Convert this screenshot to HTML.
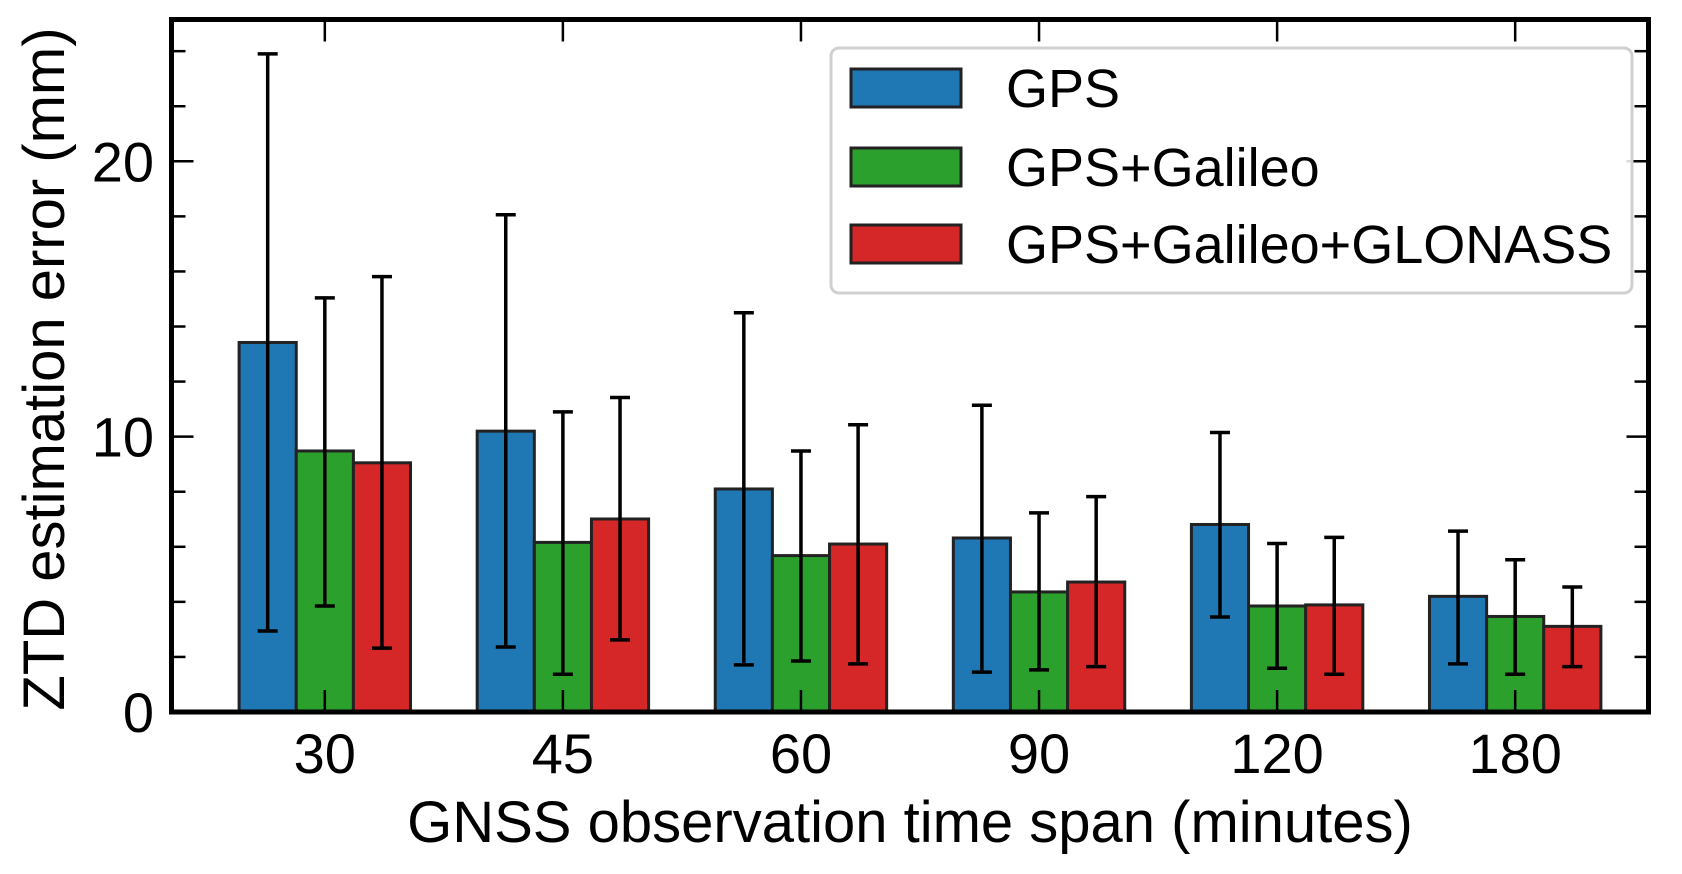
<!DOCTYPE html>
<html><head><meta charset="utf-8"><style>
html,body{margin:0;padding:0;background:#fff}
svg{display:block;font-family:"Liberation Sans",Arial,sans-serif}
</style></head><body>
<svg id="chart" width="1682" height="874" viewBox="0 0 1682 874" xmlns="http://www.w3.org/2000/svg">
<g id="plot"></g>
</svg>
<script>
const categories = ["30","45","60","90","120","180"];
const seriesNames = ["GPS","GPS+Galileo","GPS+Galileo+GLONASS"];
const gpsValues = [13.42,10.2,8.1,6.32,6.81,4.2];
const galValues = [9.48,6.16,5.68,4.36,3.85,3.47];
const gloValues = [9.05,7.01,6.1,4.72,3.89,3.11];
const gpsErrHigh = [23.9,18.06,14.5,11.14,10.15,6.57];
const gpsErrLow = [2.94,2.36,1.71,1.45,3.45,1.75];
const galErrHigh = [15.04,10.9,9.48,7.23,6.12,5.53];
const galErrLow = [3.85,1.37,1.85,1.53,1.59,1.37];
const gloErrHigh = [15.81,11.42,10.43,7.82,6.34,4.54];
const gloErrLow = [2.32,2.62,1.75,1.65,1.37,1.65];
const yTicks = [0,10,20];

const NS="http://www.w3.org/2000/svg";
const L=171.5,R=1648.5,T=19.5,B=712;
const xmin=-0.644,xmax=5.56,ymin=0,ymax=25.15;
const xs=i=>L+(i-xmin)/(xmax-xmin)*(R-L);
const ys=v=>B-(v-ymin)/(ymax-ymin)*(B-T);
const g=document.getElementById('plot');
function mk(tag,attrs,parent){const e=document.createElementNS(NS,tag);for(const k in attrs)e.setAttribute(k,attrs[k]);(parent||g).appendChild(e);return e;}

const colors=["#1f77b4","#2ca02c","#d62728"];
const vals=[gpsValues,galValues,gloValues];
const hi=[gpsErrHigh,galErrHigh,gloErrHigh];
const lo=[gpsErrLow,galErrLow,gloErrLow];
const bw=0.24;
for(let s=0;s<3;s++){
  for(let i=0;i<categories.length;i++){
    const cx=i+(s-1)*bw;
    const x0=xs(cx-bw/2),x1=xs(cx+bw/2);
    const r=mk('rect',{x:x0,y:ys(vals[s][i]),width:x1-x0,height:ys(0)-ys(vals[s][i]),fill:colors[s],stroke:"#222",'stroke-width':3});
    
    
  }
}
for(let s=0;s<3;s++){
  for(let i=0;i<categories.length;i++){
    const x=xs(i+(s-1)*bw);
    const eg=mk('g',{stroke:"#000",'stroke-width':3.5});
    
    
    mk('line',{x1:x,x2:x,y1:ys(hi[s][i]),y2:ys(lo[s][i])},eg);
    mk('line',{x1:x-10,x2:x+10,y1:ys(hi[s][i]),y2:ys(hi[s][i])},eg);
    mk('line',{x1:x-10,x2:x+10,y1:ys(lo[s][i]),y2:ys(lo[s][i])},eg);
  }
}
const tk=mk('g',{stroke:"#000",'stroke-width':2.5});


for(let v=0;v<=24;v+=2){
  const y=ys(v);const len=(v%10===0)?22:14;
  mk('line',{x1:L,x2:L+len,y1:y,y2:y},tk);
  mk('line',{x1:R-len,x2:R,y1:y,y2:y},tk);
}
for(let i=0;i<categories.length;i++){
  const x=xs(i);
  mk('line',{x1:x,x2:x,y1:B,y2:B-22},tk);
  mk('line',{x1:x,x2:x,y1:T,y2:T+22},tk);
}
const fr=mk('rect',{x:L,y:T,width:R-L,height:B-T,fill:"none",stroke:"#000",'stroke-width':5});


for(const v of yTicks){
  const t=mk('text',{x:154,y:ys(v)+20,'text-anchor':'end','font-size':56,fill:"#000"});
  t.textContent=v;
  
  
}
for(let i=0;i<categories.length;i++){
  const t=mk('text',{x:xs(i),y:773,'text-anchor':'middle','font-size':56,fill:"#000"});
  t.textContent=categories[i];
  
  
}
const xl=mk('text',{x:(L+R)/2,y:842,'text-anchor':'middle','font-size':58,fill:"#000"});
xl.textContent="GNSS observation time span (minutes)";


const yl=mk('text',{x:0,y:0,'text-anchor':'middle','font-size':58,fill:"#000",transform:"translate(64,369) rotate(-90)"});
yl.textContent="ZTD estimation error (mm)";


const lg=mk('g',{});


mk('rect',{x:831,y:48,width:801,height:245,rx:8,fill:"#fff",'fill-opacity':0.85,stroke:"#d0d0d0",'stroke-width':3},lg);
const ly=[69,148,225];
for(let s=0;s<3;s++){
  const e=mk('g',{},lg);
  
  
  mk('rect',{x:851,y:ly[s],width:110,height:38,fill:colors[s],stroke:"#222",'stroke-width':3},e);
  const t=mk('text',{x:1006,y:ly[s]+38,'font-size':54,fill:"#000"},e);
  t.textContent=seriesNames[s];
}
</script>
</body></html>
